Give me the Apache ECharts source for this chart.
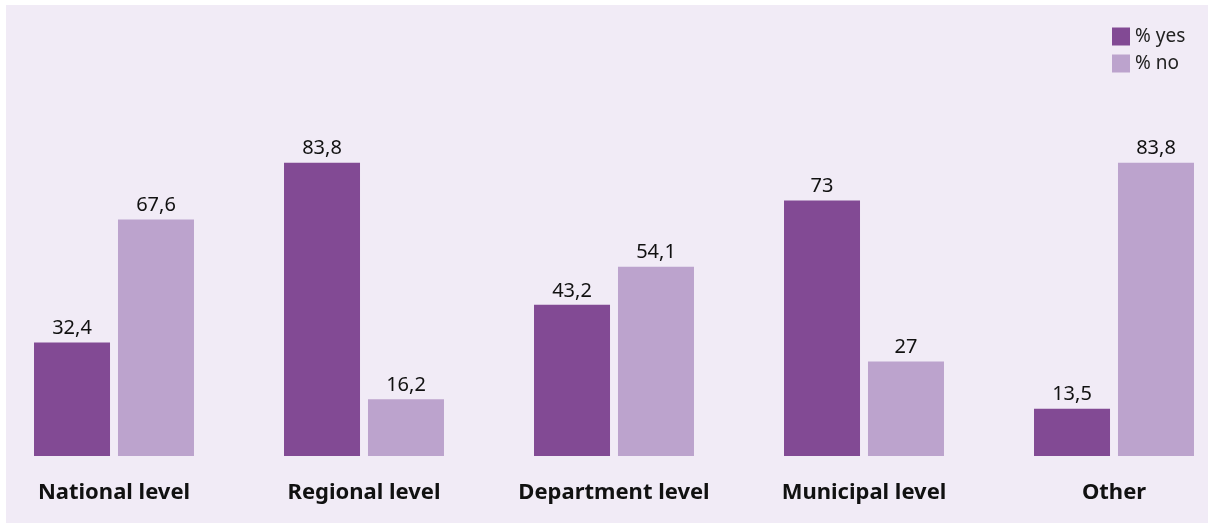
<!DOCTYPE html>
<html>
<head>
<meta charset="utf-8">
<script src="https://cdn.jsdelivr.net/npm/echarts@6/dist/echarts.min.js"></script>
<style>
  html, body { margin: 0; padding: 0; background: #fff; overflow: hidden; }
  .wrap { position: relative; width: 1208px; height: 526px; overflow: hidden; }
  .panel { position: absolute; left: 6px; top: 5px; width: 1202px; height: 518px; background: #f1ebf6; }
  /* chart is a bit wider than the window so the 5 bands get 250px each */
  #chart { position: absolute; left: -11px; top: 0; width: 1250px; height: 526px; }
</style>
</head>
<body>
<div class="wrap">
  <div class="panel"></div>
  <div id="chart"></div>
</div>
<script>
const categories = ["National level", "Regional level", "Department level", "Municipal level", "Other"];
const yesValues = [32.4, 83.8, 43.2, 73, 13.5];
const noValues = [67.6, 16.2, 54.1, 27, 83.8];

const font = "Noto Sans";
const fmt = function (p) { return String(p.value).replace(".", ","); };

const chart = echarts.init(document.getElementById("chart"));
chart.setOption({
  animation: false,
  textStyle: { fontFamily: font },
  legend: {
    orient: "vertical",
    left: 1123,
    top: 27,
    itemWidth: 18,
    itemHeight: 18,
    itemGap: 8,
    padding: 0,
    icon: "rect",
    textStyle: { fontSize: 19, color: "#222", fontFamily: font },
    data: ["% yes", "% no"],
  },
  grid: {
    left: 0,
    right: 0,
    top: 106,
    bottom: 70,
    containLabel: false,
  },
  xAxis: {
    type: "category",
    data: categories,
    axisLine: { show: false },
    axisTick: { show: false },
    axisLabel: {
      interval: 0,
      margin: 26,
      fontSize: 22,
      fontWeight: "bold",
      color: "#111",
      fontFamily: font,
    },
  },
  yAxis: {
    type: "value",
    min: 0,
    max: 100,
    show: false,
    splitLine: { show: false },
  },
  series: [
    {
      name: "% yes",
      type: "bar",
      data: yesValues,
      barWidth: 76,
      barGap: "10.5%",
      itemStyle: { color: "#824a94" },
      label: { show: true, position: "top", distance: 4, fontSize: 20, color: "#111", formatter: fmt },
    },
    {
      name: "% no",
      type: "bar",
      data: noValues,
      barWidth: 76,
      itemStyle: { color: "#bca3cd" },
      label: { show: true, position: "top", distance: 4, fontSize: 20, color: "#111", formatter: fmt },
    },
  ],
});
</script>
</body>
</html>
